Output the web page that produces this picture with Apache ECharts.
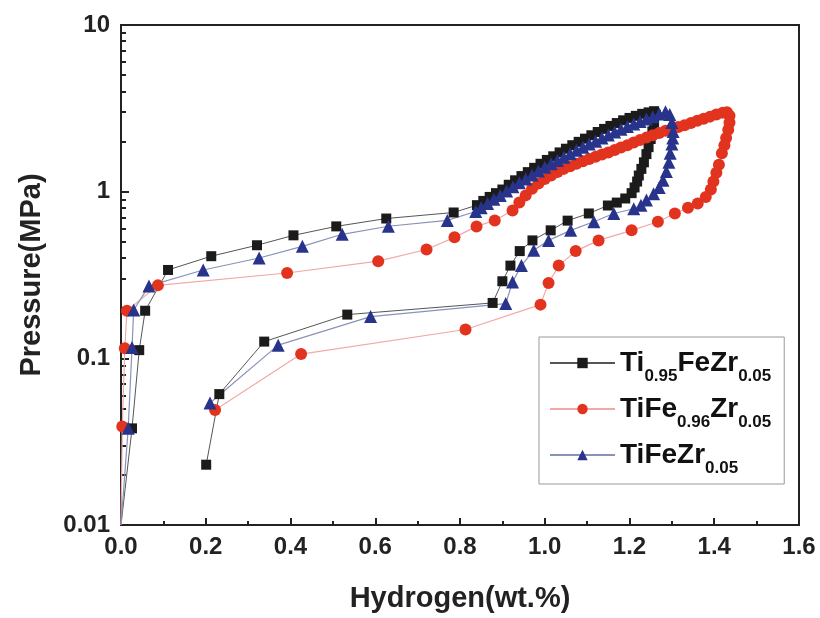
<!DOCTYPE html>
<html lang="en">
    <head>
        <meta charset="utf-8">
        <title>PCT curves</title>
        <script src="https://cdn.jsdelivr.net/npm/echarts@6/dist/echarts.min.js"></script>
    </head>
    <body style="margin:0;background:#fff;">
        <div id="echart" style="width: 820px; height: 618px;"></div>
        <script>
            // Ti0.95FeZr0.05 : absorption then desorption, in drawing order
            let blackH = [0.0, 0.026, 0.043, 0.057, 0.111, 0.213, 0.321, 0.407, 0.508, 0.626, 0.785,
                0.84, 0.855, 0.87, 0.885, 0.90, 0.915, 0.93, 0.945, 0.96, 0.975, 0.99, 1.005, 1.02, 1.035,
                1.05, 1.065, 1.08, 1.095, 1.11, 1.125, 1.14, 1.155, 1.17, 1.185, 1.20, 1.215, 1.23, 1.245, 1.258,
                1.262, 1.258, 1.254, 1.25, 1.245, 1.24, 1.234, 1.228, 1.222, 1.218, 1.212, 1.205, 1.19, 1.17,
                1.149, 1.104, 1.054, 1.014, 0.971, 0.941, 0.919, 0.90, 0.877, 0.534, 0.338, 0.232, 0.201];
            let blackP = [0.01, 0.038, 0.112, 0.193, 0.339, 0.41, 0.477, 0.547, 0.619, 0.69, 0.75,
                0.83, 0.88, 0.93, 0.98, 1.03, 1.10, 1.17, 1.24, 1.31, 1.39, 1.47, 1.55, 1.63, 1.72,
                1.81, 1.90, 1.99, 2.08, 2.18, 2.28, 2.38, 2.48, 2.58, 2.68, 2.77, 2.85, 2.93, 2.99, 3.04,
                2.9, 2.6, 2.3, 2.07, 1.85, 1.68, 1.5, 1.37, 1.25, 1.15, 1.06, 0.98, 0.91, 0.86,
                0.826, 0.74, 0.67, 0.586, 0.51, 0.44, 0.36, 0.29, 0.215, 0.183, 0.126, 0.061, 0.023];

            // TiFe0.96Zr0.05
            let redH = [0.0, 0.003, 0.009, 0.014, 0.087, 0.392, 0.607, 0.721, 0.787, 0.839, 0.882,
                0.924, 0.94, 0.955, 0.97, 0.985, 1.0, 1.015, 1.03, 1.045, 1.06, 1.075, 1.09, 1.105, 1.12,
                1.135, 1.15, 1.165, 1.18, 1.195, 1.21, 1.225, 1.24, 1.255, 1.27, 1.285, 1.30, 1.315, 1.33,
                1.345, 1.36, 1.375, 1.39, 1.405, 1.42, 1.43,
                1.436, 1.436, 1.433, 1.428, 1.424, 1.418, 1.411, 1.405, 1.398, 1.392, 1.38, 1.361, 1.338,
                1.307, 1.267, 1.205, 1.127, 1.073, 1.033, 1.009, 0.99, 0.813, 0.425, 0.222];
            let redP = [0.01, 0.039, 0.115, 0.193, 0.274, 0.325, 0.383, 0.45, 0.532, 0.619, 0.672,
                0.77, 0.86, 0.95, 1.04, 1.12, 1.19, 1.25, 1.31, 1.37, 1.42, 1.47, 1.52, 1.57, 1.62,
                1.67, 1.72, 1.78, 1.84, 1.90, 1.97, 2.04, 2.11, 2.18, 2.25, 2.32, 2.38, 2.44, 2.50,
                2.58, 2.66, 2.74, 2.82, 2.90, 2.98, 3.0,
                2.85, 2.6, 2.35, 2.1, 1.9, 1.7, 1.45, 1.3, 1.15, 1.03, 0.93, 0.85, 0.8,
                0.74, 0.66, 0.586, 0.51, 0.44, 0.36, 0.283, 0.21, 0.149, 0.106, 0.049];

            // TiFeZr0.05
            let blueH = [0.0, 0.017, 0.026, 0.03, 0.066, 0.194, 0.326, 0.428, 0.522, 0.631, 0.77, 0.837,
                0.85, 0.865, 0.88, 0.895, 0.91, 0.925, 0.94, 0.955, 0.97, 0.985, 1.0, 1.015, 1.03, 1.045,
                1.06, 1.075, 1.09, 1.105, 1.12, 1.135, 1.15, 1.165, 1.18, 1.195, 1.21, 1.225, 1.24, 1.255,
                1.27, 1.285,
                1.295, 1.30, 1.303, 1.302, 1.30, 1.296, 1.293, 1.287, 1.279, 1.27, 1.257, 1.24, 1.227, 1.21,
                1.163, 1.116, 1.061, 1.009, 0.974, 0.945, 0.924, 0.908, 0.589, 0.371, 0.21];
            let blueP = [0.01, 0.038, 0.116, 0.195, 0.272, 0.339, 0.40, 0.47, 0.555, 0.62, 0.672, 0.76,
                0.80, 0.85, 0.90, 0.95, 1.01, 1.07, 1.13, 1.19, 1.26, 1.33, 1.40, 1.47, 1.54, 1.61,
                1.69, 1.77, 1.85, 1.93, 2.01, 2.10, 2.19, 2.28, 2.37, 2.46, 2.55, 2.64, 2.73, 2.82,
                2.92, 3.02,
                2.9, 2.6, 2.3, 2.1, 1.93, 1.7, 1.5, 1.32, 1.17, 1.06, 0.97, 0.89, 0.83, 0.79,
                0.74, 0.66, 0.586, 0.51, 0.445, 0.36, 0.287, 0.213, 0.178, 0.12, 0.054];

            let xTicks = [0, 0.2, 0.4, 0.6, 0.8, 1.0, 1.2, 1.4, 1.6];
            let yTicks = [0.01, 0.1, 1, 10];
            let yMinor = [0.02, 0.03, 0.04, 0.05, 0.06, 0.07, 0.08, 0.09,
                0.2, 0.3, 0.4, 0.5, 0.6, 0.7, 0.8, 0.9,
                2, 3, 4, 5, 6, 7, 8, 9];

            let names = ['Ti0.95FeZr0.05', 'TiFe0.96Zr0.05', 'TiFeZr0.05'];
            let legendRich = {
                'Ti0.95FeZr0.05': '{m|Ti}{s|0.95}{m|FeZr}{s|0.05}',
                'TiFe0.96Zr0.05': '{m|TiFe}{s|0.96}{m|Zr}{s|0.05}',
                'TiFeZr0.05': '{m|TiFeZr}{s|0.05}'
            };

            // the first point sits on the origin corner and carries no marker
            function pairs(h, p) {
                return h.map((v, i) => i === 0 ? {value: [v, p[i]], symbol: 'none'} : [v, p[i]]);
            }

            let font = 'Liberation Sans, Arial, sans-serif';
            let myChart = echarts.init(document.getElementById('echart'));
            let option = {
                animation: false,
                grid: {
                    left: 121, right: 21, top: 25, bottom: 90,
                    show: true, borderColor: '#222', borderWidth: 2
                },
                legend: {
                    data: names,
                    orient: 'vertical',
                    left: 539, top: 337,
                    itemWidth: 65, itemHeight: 13, itemGap: 10,
                    padding: [12, 13, 7, 10],
                    borderColor: '#999', borderWidth: 1,
                    formatter: name => legendRich[name],
                    textStyle: {
                        rich: {
                            m: {fontSize: 28, fontWeight: 'bold', fontFamily: font, color: '#111', lineHeight: 44},
                            s: {fontSize: 17, fontWeight: 'bold', fontFamily: font, color: '#111', verticalAlign: 'bottom'}
                        }
                    }
                },
                xAxis: {
                    type: 'value', min: 0, max: 1.6, interval: 0.2,
                    name: 'Hydrogen(wt.%)', nameLocation: 'middle', nameGap: 59,
                    nameTextStyle: {fontSize: 29, fontWeight: 'bold', fontFamily: font, color: '#222'},
                    axisLine: {lineStyle: {color: '#222', width: 2}},
                    axisTick: {inside: true, length: 7, lineStyle: {color: '#222', width: 2}},
                    minorTick: {show: true, splitNumber: 2, length: 4, lineStyle: {color: '#222', width: 2}},
                    splitLine: {show: false},
                    axisLabel: {
                        fontSize: 24, fontWeight: 'bold', fontFamily: font, color: '#222', margin: 10,
                        customValues: xTicks,
                        formatter: v => v.toFixed(1)
                    }
                },
                yAxis: [{
                    type: 'log', logBase: 10, min: 0.01, max: 10,
                    name: 'Pressure(MPa)', nameLocation: 'middle', nameGap: 75,
                    nameTextStyle: {fontSize: 29, fontWeight: 'bold', fontFamily: font, color: '#222'},
                    axisLine: {lineStyle: {color: '#222', width: 2}},
                    axisTick: {inside: true, length: 8, lineStyle: {color: '#222', width: 2}},
                    splitLine: {show: false},
                    axisLabel: {
                        fontSize: 24, fontWeight: 'bold', fontFamily: font, color: '#222', margin: 11,
                        formatter: v => String(yTicks.find(t => Math.abs(t - v) < t * 1e-6) ?? v)
                    }
                }, {
                    type: 'log', logBase: 10, min: 0.01, max: 10, position: 'left',
                    axisLine: {show: false},
                    axisTick: {inside: true, length: 5, customValues: yMinor, lineStyle: {color: '#222', width: 2}},
                    axisLabel: {show: false},
                    splitLine: {show: false}
                }],
                series: [
                    {
                        name: names[0], type: 'line', data: pairs(blackH, blackP),
                        symbol: 'rect', symbolSize: 10,
                        itemStyle: {color: '#1b1b1b'},
                        lineStyle: {color: '#555', width: 1}
                    },
                    {
                        name: names[1], type: 'line', data: pairs(redH, redP),
                        symbol: 'circle', symbolSize: 12,
                        itemStyle: {color: '#e2331f'},
                        lineStyle: {color: '#f2a8a8', width: 1.2}
                    },
                    {
                        name: names[2], type: 'line', data: pairs(blueH, blueP),
                        symbol: 'triangle', symbolSize: 13,
                        itemStyle: {color: '#28348c'},
                        lineStyle: {color: '#8a92b8', width: 1.2}
                    }
                ]
            };
            myChart.setOption(option);
        </script>
    </body>
</html>
